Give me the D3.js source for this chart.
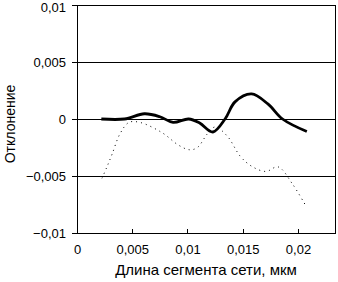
<!DOCTYPE html>
<html>
<head>
<meta charset="utf-8">
<script src="https://cdn.jsdelivr.net/npm/d3@7"></script>
<style>
  body { margin: 0; background: #fff; }
  text { font-family: "Liberation Sans", Arial, sans-serif; fill: #000; }
</style>
</head>
<body>
<svg id="chart" width="338" height="282"></svg>
<script>
// solid curve (x in mkm, y deviation)
let solidX = [0.0022, 0.0043, 0.0061, 0.0075, 0.0087, 0.0101, 0.0111, 0.0123, 0.0134, 0.0143, 0.0158, 0.0173, 0.0186, 0.0208];
let solidY = [0, 0, 0.00046, 0.0002, -0.0003, 0, -0.00035, -0.00114, 0, 0.0015, 0.0022, 0.0013, 0, -0.0011];

// dotted curve
let dotX = [0.00226, 0.00271, 0.00317, 0.00389, 0.0047, 0.0057, 0.0077, 0.0092, 0.0102, 0.0109, 0.0118, 0.0125, 0.0136, 0.0148, 0.0159, 0.0171, 0.0182, 0.0195, 0.0207];
let dotY = [-0.0052, -0.0042, -0.0031, -0.0013, -0.0003, -0.0003, -0.0012, -0.0023, -0.0027, -0.0025, -0.0013, -0.0007, -0.0015, -0.0033, -0.0042, -0.0046, -0.0042, -0.0057, -0.0076];

let xTicks = [0, 0.005, 0.01, 0.015, 0.02];
let yTicks = [-0.01, -0.005, 0, 0.005, 0.01];

let svg = d3.select("#chart");
let mLeft = 77, mRight = 335, mTop = 5, mBottom = 233;

let fmt = d => d3.format("")(d).replace(".", ",");

let xScale = d3.scaleLinear().domain([0, 0.02335]).range([mLeft, mRight]);
let yScale = d3.scaleLinear().domain([-0.01, 0.01]).range([mBottom, mTop]);

// grid lines
svg.append("g")
    .selectAll("line")
    .data(yTicks.filter(d => d > -0.01))
    .enter()
    .append("line")
    .attr("x1", mLeft).attr("x2", mRight)
    .attr("y1", d => yScale(d)).attr("y2", d => yScale(d))
    .attr("stroke", "#000")
    .attr("stroke-width", 1)
    .attr("shape-rendering", "crispEdges");

// right border
svg.append("line")
    .attr("x1", mRight).attr("x2", mRight)
    .attr("y1", mTop).attr("y2", mBottom)
    .attr("stroke", "#000")
    .attr("shape-rendering", "crispEdges");

let xAxis = d3.axisBottom(xScale).tickValues(xTicks.concat([0.02335])).tickSizeInner(-4).tickSizeOuter(0)
    .tickFormat(d => xTicks.includes(d) ? fmt(d) : "").tickPadding(12);
let yAxis = d3.axisLeft(yScale).tickValues(yTicks).tickSizeInner(5).tickSizeOuter(0)
    .tickFormat(fmt).tickPadding(6);

svg.append("g")
    .attr("transform", "translate(0," + mBottom + ")")
    .call(xAxis)
    .call(g => g.selectAll("text").attr("font-size", 13).attr("font-family", "Liberation Sans, Arial, sans-serif"));

svg.append("g")
    .attr("transform", "translate(" + mLeft + ",0)")
    .call(yAxis)
    .call(g => g.selectAll("text").attr("font-size", 13).attr("font-family", "Liberation Sans, Arial, sans-serif"))
    .call(g => g.selectAll(".tick text").filter(d => d === 0.01).attr("dy", "0.5em"));

svg.selectAll(".domain").attr("stroke", "#000").attr("shape-rendering", "crispEdges");
svg.selectAll(".tick line").attr("stroke", "#000").attr("shape-rendering", "crispEdges");

let solid = solidX.map((x, i) => ({x: x, y: solidY[i]}));
let dots = dotX.map((x, i) => ({x: x, y: dotY[i]}));

let line = d3.line()
    .x(d => xScale(d.x))
    .y(d => yScale(d.y))
    .curve(d3.curveCatmullRom.alpha(0.5));

svg.append("path")
    .datum(dots)
    .attr("d", line)
    .attr("fill", "none")
    .attr("stroke", "#000")
    .attr("stroke-width", 1)
    .attr("stroke-dasharray", "1,4");

svg.append("path")
    .datum(solid)
    .attr("d", line)
    .attr("fill", "none")
    .attr("stroke", "#000")
    .attr("stroke-width", 2.8);

// axis titles
svg.append("text")
    .attr("x", (mLeft + mRight) / 2)
    .attr("y", 275)
    .attr("text-anchor", "middle")
    .attr("font-size", 15)
    .text("Длина сегмента сети, мкм");

svg.append("text")
    .attr("transform", "translate(15," + ((mTop + mBottom) / 2 + 5) + ") rotate(-90)")
    .attr("text-anchor", "middle")
    .attr("font-size", 14)
    .text("Отклонение");
</script>
</body>
</html>
